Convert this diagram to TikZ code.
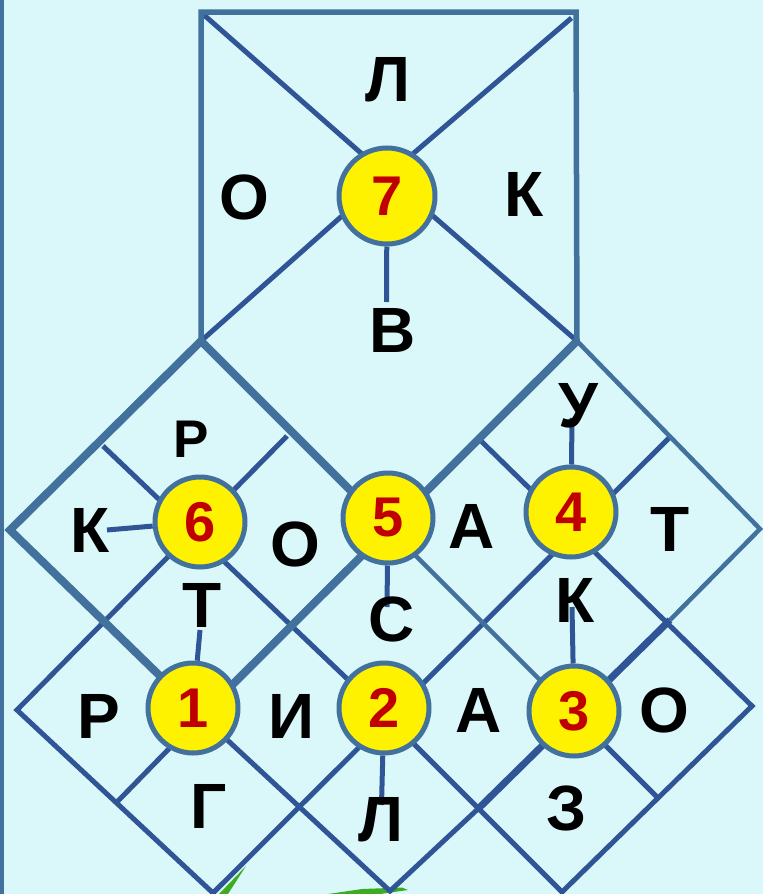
\documentclass[tikz,border=0pt]{standalone}
\usepackage{fontspec}
\setmainfont{Liberation Sans}
\usetikzlibrary{calc}
\definecolor{bgc}{RGB}{218,248,250}
\definecolor{steel}{RGB}{65,113,156}
\definecolor{navy}{RGB}{47,85,151}
\definecolor{numred}{RGB}{192,0,0}
\definecolor{leaf}{RGB}{62,172,34}
\pgfdeclarelayer{bg}
\pgfsetlayers{bg,main}
\begin{document}
\begin{tikzpicture}[x=1pt,y=-1pt,
  letter/.style={inner sep=0pt, font=\fontsize{64}{64}\selectfont\bfseries, text=black},
  numc/.style={circle, draw=steel, line width=5pt, fill=yellow, minimum size=90pt, inner sep=0pt,
    font=\fontsize{56}{56}\selectfont\bfseries, text=numred},
  dk/.style={draw=navy, line width=5pt, line join=miter},
  st/.style={draw=steel, line width=4.5pt, line join=miter},
  thk/.style={draw=steel, line width=8pt, line join=miter},
  thkd/.style={draw=navy, line width=7pt},
  ]
\useasboundingbox (0,0) rectangle (763,894);

% grid coordinates
\coordinate (RTL) at (201,12);
\coordinate (RTR) at (576,12);
\coordinate (RD1) at (204,15);
\coordinate (RD2) at (571.5,18);
\coordinate (X7) at (387,176);
\coordinate (T6) at (201,341);
\coordinate (T4) at (577,341);
\coordinate (L6) at (10,530);
\coordinate (R4) at (760,529);
\coordinate (L1) at (17,710);
\coordinate (R3) at (752,706);
\coordinate (B1) at (213,893);
\coordinate (B2) at (390,891);
\coordinate (B3) at (562,892);
\coordinate (X1) at (195,710);
\coordinate (X5) at (388,528);
\coordinate (X3) at (574,714);
\coordinate (X2) at (384,714);
\coordinate (XC1) at (198,719);
\coordinate (P75) at (657,797);
\coordinate (P11) at (103,446);
\coordinate (P51) at (480,440);
\coordinate (P31) at (287,436);
\coordinate (P15) at (117,802);
\coordinate (P71) at (670,437);
\coordinate (P73) at (670,620);
\coordinate (P55) at (480,807);
% connector free ends
\coordinate (eB7) at (386.5,302);
\coordinate (eK6) at (107,530);
\coordinate (eT1) at (200,630);
\coordinate (eS5) at (387,607);
\coordinate (eU4) at (572,418);
\coordinate (eK3) at (572,607);
\coordinate (eL2) at (381.5,805);

% circles
\node[numc, minimum size=96pt] (c7) at (387,196) {7};
\node[numc] (c6) at (200,522) {6};
\node[numc] (c5) at (388,518) {5};
\node[numc] (c4) at (571,512) {4};
\node[numc] (c1) at (193,708) {1};
\node[numc] (c2) at (384,708) {2};
\node[numc] (c3) at (574,711) {3};

% letters
\node[letter] (lL7) at (388,80) {Л};
\node[letter] (lO7) at (244,197) {О};
\node[letter] (lK7) at (524,194) {К};
\node[letter] (lB7) at (393,330) {В};
\node[letter, font=\fontsize{53}{53}\selectfont\bfseries] (lR6) at (191,439) {Р};
\node[letter] (lK6) at (90,530) {К};
\node[letter] (lO6) at (295,544) {О};
\node[letter] (lT6) at (202,605) {Т};
\node[letter] (lA5) at (472,526) {А};
\node[letter] (lU4) at (578,406) {У};
\node[letter] (lT4) at (670,529) {Т};
\node[letter] (lS5) at (392,619) {С};
\node[letter] (lK3) at (575,600) {К};
\node[letter] (lR1) at (99,716) {Р};
\node[letter] (lI1) at (291,716) {И};
\node[letter] (lG1) at (209,806) {Г};
\node[letter] (lL2) at (381,820) {Л};
\node[letter] (lA2) at (479,710) {А};
\node[letter] (lO3) at (664,710) {О};
\node[letter] (lZ3) at (567,808) {З};

\begin{pgfonlayer}{bg}
  \fill[bgc] (0,0) rectangle (763,894);
  \fill[steel] (0,0) rectangle (3.5,894);
  % leaves
  \fill[leaf] (219,894) -- (246,866) -- (228,894) -- cycle;
  \fill[leaf] (328,894) -- (362,889) -- (402,887.5) -- (408,890) -- (380,894) -- cycle;
  % dark grid lines
  \draw[dk] (P31) -- (L1) -- (B1) -- (P71);
  \draw[dk] (X1) -- (B2) -- (P55);
  \draw[dk] (P11) -- (X2) -- (B3) -- (R3) -- (P51);
  \draw[dk] (X3) -- (P75);
  \draw[dk] (XC1) -- (P15);
  % rectangle diagonals
  \draw[dk] (RD1) -- (X7);
  \draw[dk] (RD2) -- (X7);
  \draw[dk] (T6) -- (X7);
  \draw[dk] (T4) -- (X7);
  % short connectors
  \draw[dk] (c7) -- (eB7);
  \draw[dk] (eK6) -- (c6);
  \draw[dk] (eT1) -- (c1);
  \draw[dk] (c5) -- (eS5);
  \draw[dk] (eU4) -- (c4);
  \draw[dk] (eK3) -- (c3);
  \draw[dk] (c2) -- (eL2);
  % steel medium lines
  \draw[st] (T4) -- (R4) -- (P73);
  \draw[st] (X5) -- (X3);
  % rectangle
  \draw[draw=steel, line width=5.5pt, line join=miter] (T6) -- (RTL) -- (RTR) -- (T4);
  % thick lines
  \draw[thk] (X5) -- (T6) -- (L6) -- (X1);
  \draw[thk] (T4) -- (XC1);
  \draw[thkd] (P73) -- (P55);
\end{pgfonlayer}
\end{tikzpicture}
\end{document}
